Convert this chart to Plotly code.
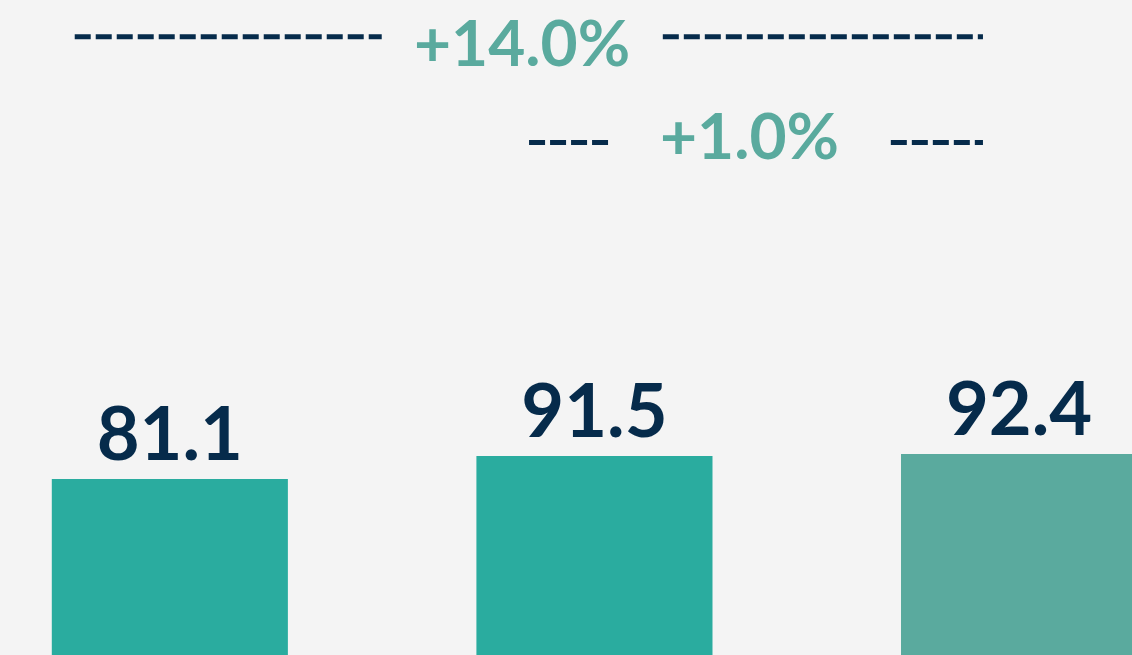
import plotly.graph_objects as go

# Datos del gráfico
categorias = ["A", "B", "C"]
valores = [81.1, 91.5, 92.4]
etiquetas_valor = ["81.1", "91.5", "92.4"]
variaciones = ["+14.0%", "+1.0%"]

# Estilo
NAVY = "#062b4b"
TEAL = "#2aac9f"
TEAL_SOFT = "#5aaa9e"
BG = "#f4f4f4"
FONT = "Lato"
colores_barra = [TEAL, TEAL, TEAL_SOFT]

# Geometría de las líneas discontinuas (coordenadas de eje)
LINEA_Y = [281.0, 233.2]
LINEA_X = [(-0.224, 1.915), (0.846, 1.915)]
HUECO_X = [(0.499, 1.161), (1.032, 1.698)]
TEXTO_Y = [279.0, 237.0]

fig = go.Figure()
fig.add_trace(go.Bar(
    x=list(range(len(categorias))), y=valores,
    marker=dict(color=colores_barra, line_width=0),
    width=0.556,
    text=etiquetas_valor, textposition="outside",
    textfont=dict(family=FONT, size=74, color=NAVY, weight="bold"),
    cliponaxis=False, hoverinfo="skip",
))

dash = dict(color=NAVY, width=5, dash="16px,5px")
for (x0, x1), (g0, g1), y, txt, ty in zip(LINEA_X, HUECO_X, LINEA_Y, variaciones, TEXTO_Y):
    fig.add_shape(type="line", x0=x0, x1=g0, y0=y, y1=y, line=dash, xref="x", yref="y")
    fig.add_shape(type="line", x0=g1, x1=x1, y0=y, y1=y, line=dash, xref="x", yref="y")
    fig.add_annotation(
        x=(g0 + g1) / 2, y=ty, text=txt, showarrow=False,
        xanchor="center", yanchor="middle",
        font=dict(family=FONT, size=64, color=TEAL_SOFT, weight="bold"),
    )

fig.update_layout(
    width=1132, height=655,
    margin=dict(l=0, r=0, t=0, b=0),
    paper_bgcolor=BG, plot_bgcolor=BG,
    showlegend=False,
    xaxis=dict(range=[-0.4, 2.266], visible=False),
    yaxis=dict(range=[1.5, 297.6], visible=False),
)

fig.write_html(
    "out.html",
    config={"displayModeBar": False},
    post_script="document.body.style.margin='0';",
)
